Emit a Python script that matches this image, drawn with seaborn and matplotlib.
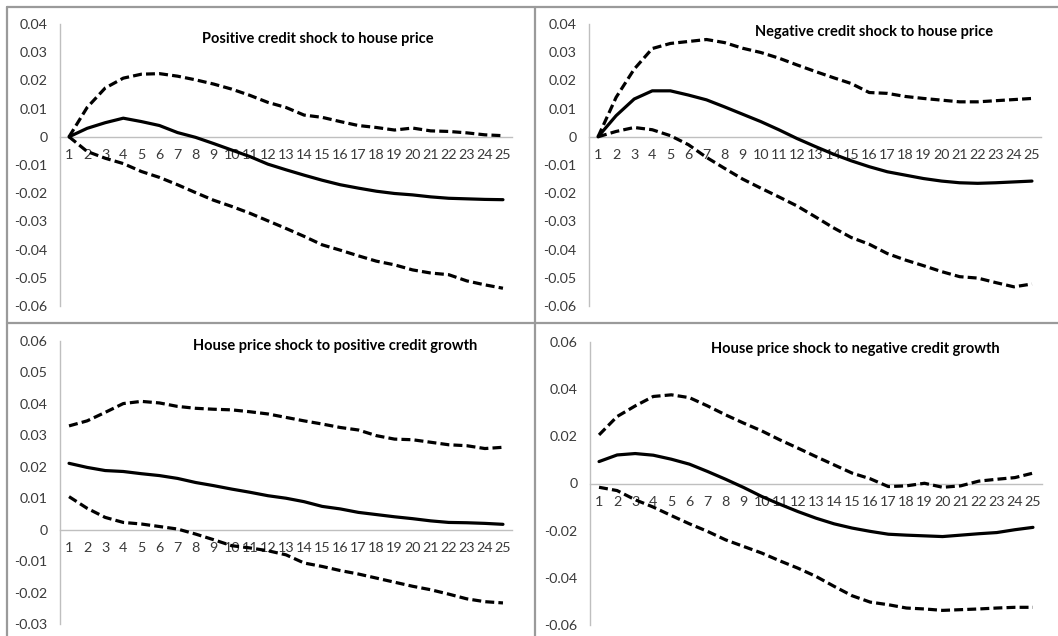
import numpy as np
import pandas as pd
import matplotlib
matplotlib.use("Agg")
import matplotlib.pyplot as plt
from matplotlib.lines import Line2D
import seaborn as sns

# Horizon (periods after the shock)
periods = list(range(1, 26))

# Positive credit shock to house price
pc_hp_irf = [0, 0.003, 0.005, 0.0066, 0.0054, 0.004, 0.0015, -0.0002, -0.0024, -0.0047,
             -0.007, -0.0097, -0.0117, -0.0136, -0.0154, -0.017, -0.0182, -0.0193, -0.0201,
             -0.0206, -0.0213, -0.0218, -0.022, -0.0222, -0.0223]
pc_hp_upper = [0, 0.0104, 0.0173, 0.0208, 0.0222, 0.0224, 0.0215, 0.0202, 0.0187, 0.0169,
               0.0147, 0.0122, 0.0104, 0.0077, 0.0069, 0.0054, 0.004, 0.0033, 0.0024, 0.0031,
               0.0021, 0.0019, 0.0014, 0.0007, 0.0004]
pc_hp_lower = [0, -0.0052, -0.0076, -0.0095, -0.0123, -0.0144, -0.017, -0.0198, -0.0225,
               -0.0247, -0.0271, -0.0298, -0.0325, -0.0353, -0.0383, -0.0402, -0.0422,
               -0.0441, -0.0454, -0.0472, -0.0483, -0.0489, -0.0511, -0.0525, -0.0537]

# Negative credit shock to house price
nc_hp_irf = [0, 0.0075, 0.0134, 0.0163, 0.0163, 0.0148, 0.0131, 0.0106, 0.008, 0.0054,
             0.0025, -0.0006, -0.0034, -0.0061, -0.0085, -0.0106, -0.0124, -0.0136, -0.0148,
             -0.0157, -0.0163, -0.0165, -0.0163, -0.016, -0.0157]
nc_hp_upper = [0, 0.014, 0.024, 0.0313, 0.0331, 0.0338, 0.0345, 0.0334, 0.0314, 0.0299,
               0.0279, 0.0255, 0.0232, 0.021, 0.0189, 0.0157, 0.0154, 0.0143, 0.0136, 0.013,
               0.0124, 0.0124, 0.0128, 0.0132, 0.0136]
nc_hp_lower = [0, 0.0019, 0.0033, 0.0025, 0.0004, -0.0028, -0.0073, -0.0112, -0.015, -0.0182,
               -0.0213, -0.0245, -0.0283, -0.0322, -0.0357, -0.0381, -0.0414, -0.0437,
               -0.0457, -0.0478, -0.0496, -0.0501, -0.0517, -0.0532, -0.0522]

# House price shock to positive credit growth
hp_pc_irf = [0.0211, 0.0198, 0.0188, 0.0185, 0.0178, 0.0172, 0.0163, 0.015, 0.014, 0.0129,
             0.0119, 0.0108, 0.01, 0.0089, 0.0074, 0.0066, 0.0055, 0.0048, 0.0041, 0.0035,
             0.0028, 0.0023, 0.0022, 0.002, 0.0017]
hp_pc_upper = [0.033, 0.0346, 0.0373, 0.0401, 0.0408, 0.0403, 0.0392, 0.0386, 0.0383, 0.0381,
               0.0375, 0.0368, 0.0357, 0.0346, 0.0336, 0.0325, 0.0317, 0.0299, 0.0288, 0.0286,
               0.0278, 0.027, 0.0267, 0.0258, 0.0262]
hp_pc_lower = [0.0105, 0.0068, 0.0039, 0.0023, 0.0018, 0.001, 0.0002, -0.0014, -0.0032,
               -0.0051, -0.0058, -0.0067, -0.008, -0.0106, -0.0117, -0.013, -0.0141, -0.0154,
               -0.0167, -0.018, -0.0191, -0.0205, -0.022, -0.0229, -0.0233]

# House price shock to negative credit growth
hp_nc_irf = [0.0093, 0.0121, 0.0127, 0.012, 0.0103, 0.0082, 0.0051, 0.0018, -0.0017, -0.0055,
             -0.0088, -0.0119, -0.0147, -0.0171, -0.0189, -0.0203, -0.0215, -0.0219, -0.0222,
             -0.0225, -0.0219, -0.0213, -0.0208, -0.0196, -0.0186]
hp_nc_upper = [0.0206, 0.0284, 0.0329, 0.0369, 0.0376, 0.0364, 0.0329, 0.0291, 0.0256, 0.0223,
               0.0185, 0.015, 0.0114, 0.0079, 0.0044, 0.002, -0.0013, -0.001, 0.0001, -0.0016,
               -0.001, 0.001, 0.0018, 0.0025, 0.0044]
hp_nc_lower = [-0.0016, -0.003, -0.0069, -0.01, -0.0136, -0.0171, -0.0203, -0.0239, -0.0267,
               -0.0295, -0.0328, -0.0359, -0.0394, -0.0436, -0.0476, -0.0503, -0.0514, -0.0528,
               -0.0532, -0.0538, -0.0535, -0.0532, -0.0528, -0.0525, -0.0525]

titles = ["Positive credit shock to house price",
          "Negative credit shock to house price",
          "House price shock to positive credit growth",
          "House price shock to negative credit growth"]

y_ticks = [np.round(np.arange(-0.06, 0.0401, 0.01), 2),
           np.round(np.arange(-0.06, 0.0401, 0.01), 2),
           np.round(np.arange(-0.03, 0.0601, 0.01), 2),
           np.round(np.arange(-0.06, 0.0601, 0.02), 2)]

panels = [(pc_hp_irf, pc_hp_upper, pc_hp_lower),
          (nc_hp_irf, nc_hp_upper, nc_hp_lower),
          (hp_pc_irf, hp_pc_upper, hp_pc_lower),
          (hp_nc_irf, hp_nc_upper, hp_nc_lower)]

sns.set_style("white")
plt.rcParams["font.family"] = ["Lato", "DejaVu Sans"]

W, H = 1058, 636
fig = plt.figure(figsize=(W / 100, H / 100), dpi=100)
fig.patch.set_facecolor("white")

# pixel boxes: left, top, right, bottom
boxes = [(60, 24, 512, 306), (589, 24, 1041, 306),
         (60, 341, 512, 624), (590, 342, 1042, 625)]
title_pos = [(318, 39), (874, 32), (335, 346), (855, 349)]

axis_gray = "#bfbfbf"
text_col = "#3a3a3a"

for i, (box, (irf, up, lo)) in enumerate(zip(boxes, panels)):
    l, t, r, b = box
    ax = fig.add_axes([l / W, 1 - b / H, (r - l) / W, (b - t) / H])
    df = pd.DataFrame({
        "period": periods * 3,
        "value": list(irf) + list(up) + list(lo),
        "series": ["irf"] * 25 + ["upper"] * 25 + ["lower"] * 25,
    })
    sns.lineplot(data=df, x="period", y="value", style="series",
                 dashes={"irf": "", "upper": (2.8, 1.3), "lower": (2.8, 1.3)},
                 color="black", linewidth=2.3, legend=False, ax=ax, zorder=3)
    ticks = y_ticks[i]
    ax.set_xlim(0.5, 25.5)
    ax.set_ylim(ticks[0], ticks[-1])
    ax.set_yticks(ticks)
    ax.set_yticklabels(["0" if abs(v) < 1e-9 else f"{v:g}" for v in ticks])
    ax.set_xticks(periods)
    ax.set_xticklabels([str(p) for p in periods])
    ax.set_xlabel("")
    ax.set_ylabel("")
    for s in ["top", "right"]:
        ax.spines[s].set_visible(False)
    ax.spines["bottom"].set_position(("data", 0))
    ax.spines["bottom"].set_color(axis_gray)
    ax.spines["bottom"].set_linewidth(1.0)
    ax.spines["left"].set_color(axis_gray)
    ax.spines["left"].set_linewidth(1.0)
    ax.tick_params(axis="x", length=0, pad=9, labelsize=10.3, colors=text_col)
    ax.tick_params(axis="y", length=0, pad=9, labelsize=10.3, colors=text_col)
    ax.patch.set_alpha(0)
    tx, ty = title_pos[i]
    fig.text(tx / W, 1 - ty / H, titles[i], ha="center", va="center",
             fontsize=10.5, fontweight="bold", color="black")

# panel frame lines
frame_gray = "#9a9a9a"
for xs, ys in [([7, W], [7, 7]), ([7, 7], [7, H]),
               ([535, 535], [7, H]), ([7, W], [323, 323])]:
    fig.add_artist(Line2D([x / W for x in xs], [1 - y / H for y in ys],
                          color=frame_gray, linewidth=1.6))

fig.savefig("out.png", dpi=100, facecolor="white")
